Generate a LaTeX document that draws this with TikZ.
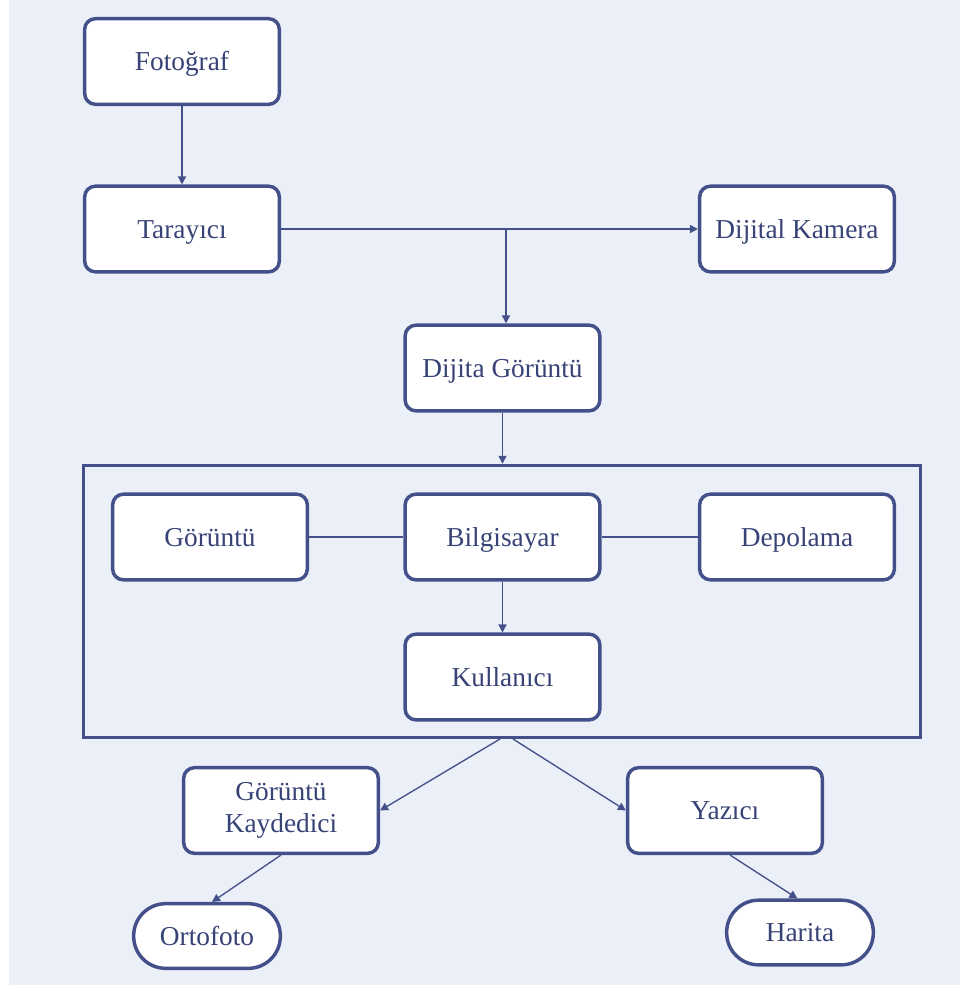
\documentclass[tikz,border=0pt]{standalone}
\usepackage{fontspec}
\setmainfont{Liberation Serif}
\usetikzlibrary{arrows.meta,calc}
\definecolor{bgblue}{RGB}{234,239,248}
\definecolor{edge}{RGB}{67,80,138}
\definecolor{txt}{RGB}{55,67,118}
\tikzset{
  boxbase/.style={draw=edge, fill=white, line width=2.6pt, inner sep=0pt,
    text=txt, font=\fontsize{20.5}{24}\selectfont},
  box/.style={boxbase, rounded corners=8pt,
    minimum width=146pt, minimum height=64.2pt, text height=13.5pt, text depth=0pt},
  box2/.style={boxbase, rounded corners=8pt,
    minimum width=146pt, minimum height=64.2pt, align=center},
  pill/.style={boxbase, rounded corners=24pt,
    minimum width=110pt, minimum height=48.5pt, text height=13.5pt, text depth=0pt},
  frame/.style={draw=edge, line width=2.6pt, minimum width=627.5pt, minimum height=204pt, inner sep=0pt},
  conn/.style={draw=edge, line width=1pt},
  arr/.style={conn, -{Triangle[length=6pt,width=6pt]}}
}
\begin{document}
\begin{tikzpicture}[x=0.75pt,y=-0.75pt]
\fill[bgblue] (0,0) rectangle (960,985);
\fill[white] (0,0) rectangle (9,985);
\useasboundingbox (0,0) rectangle (960,985);

\node[frame] (sys) at (502,601.5) {};

\node[box] (foto) at (182,61.5) {Fotoğraf};
\node[box] (tar) at (182,229) {Tarayıcı};
\node[box] (dk) at (797,229) {Dijital Kamera};
\node[box] (dg) at (502.5,368) {Dijita Görüntü};
\node[box] (gor) at (210,537) {Görüntü};
\node[box] (bil) at (502.5,537) {Bilgisayar};
\node[box] (dep) at (797,537) {Depolama};
\node[box] (kul) at (502.5,677) {Kullanıcı};
\node[box2] (gk) at (281,810.5) {Görüntü\\Kaydedici};
\node[box] (yaz) at (725,810.5) {Yazıcı};
\node[pill] (orto) at (207,936) {Ortofoto};
\node[pill] (har) at (800,932.5) {Harita};

\coordinate (j) at (506,229);
\coordinate (b1) at (500,739);
\coordinate (b2) at (513,739);

\draw[arr] (foto) -- (tar);
\draw[arr] (tar.east) -- (dk.west);
\draw[arr] (j) -- (j |- dg.north);
\draw[arr] (dg.south) -- (dg.south |- sys.north);
\draw[conn] (gor.east) -- (bil.west);
\draw[conn] (bil.east) -- (dep.west);
\draw[arr] (bil.south) -- (kul.north);
\draw[arr] (b1) -- (gk.east);
\draw[arr] (b2) -- (yaz.west);
\draw[arr] (gk.south) -- ([xshift=3.75pt]orto.north);
\draw[arr] ([xshift=3.75pt]yaz.south) -- ([xshift=-2pt]har.north);
\end{tikzpicture}
\end{document}
